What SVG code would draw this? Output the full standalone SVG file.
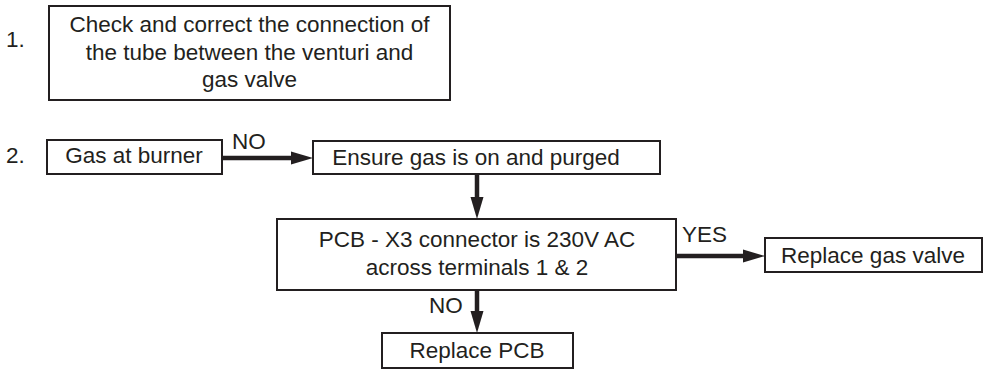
<svg xmlns="http://www.w3.org/2000/svg" width="986" height="372" viewBox="0 0 986 372">
<defs>
<style>
.box{fill:#fff;stroke:#231f20;stroke-width:2}
.t{font-family:"Liberation Sans",Arial,sans-serif;font-size:22.5px;fill:#231f20}
.c{text-anchor:middle}
.ln{stroke:#231f20;stroke-width:4.5;fill:none}
.ah{fill:#231f20}
</style>
</defs>
<rect width="986" height="372" fill="#fff"/>
<text class="t" x="6" y="47">1.</text>
<text class="t" x="6" y="163">2.</text>
<g id="n1">
<rect class="box" x="49" y="6" width="401" height="94"/>
<text class="t c" x="249.5" y="32">Check and correct the connection of</text>
<text class="t c" x="249.5" y="59.5">the tube between the venturi and</text>
<text class="t c" x="249.5" y="87">gas valve</text>
</g>
<g id="n2">
<rect class="box" x="47" y="140" width="175" height="34"/>
<text class="t c" x="134" y="163">Gas at burner</text>
</g>
<g id="n3">
<rect class="box" x="313" y="141" width="347" height="33"/>
<text class="t c" x="476" y="165">Ensure gas is on and purged</text>
</g>
<g id="n4">
<rect class="box" x="277" y="219" width="399" height="71"/>
<text class="t c" x="477" y="247">PCB - X3 connector is 230V AC</text>
<text class="t c" x="477" y="275">across terminals 1 &amp; 2</text>
</g>
<g id="n5">
<rect class="box" x="765" y="238" width="217" height="34"/>
<text class="t c" x="873" y="263">Replace gas valve</text>
</g>
<g id="n6">
<rect class="box" x="382" y="333" width="191" height="35"/>
<text class="t c" x="477" y="358">Replace PCB</text>
</g>
<g id="connectors">
<line class="ln" x1="222" y1="158" x2="294" y2="158"/>
<polygon class="ah" points="313,158 291,151.5 291,164.5"/>
<text class="t" x="232" y="149">NO</text>
<line class="ln" x1="477" y1="174" x2="477" y2="200"/>
<polygon class="ah" points="477,219 470.5,197 483.5,197"/>
<line class="ln" x1="676" y1="256" x2="746" y2="256"/>
<polygon class="ah" points="765,256 743,249.5 743,262.5"/>
<text class="t" x="682" y="242">YES</text>
<line class="ln" x1="477" y1="290" x2="477" y2="314"/>
<polygon class="ah" points="477,333 470.5,311 483.5,311"/>
<text class="t" x="429" y="313">NO</text>
</g>
</svg>
